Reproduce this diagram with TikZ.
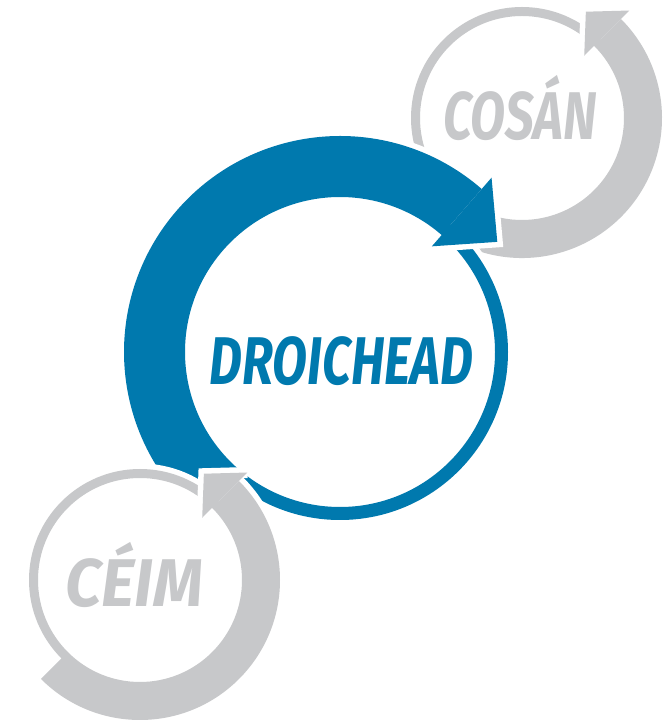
\documentclass[tikz,border=0pt]{standalone}
\usepackage{fontspec}
\usepackage{graphicx}
\newfontfamily\dinfont{Fira Sans}
\definecolor{dblue}{HTML}{0079AE}
\definecolor{lgrey}{HTML}{C7C8CA}
\tikzset{
  ring/.style={fill=#1, preaction={draw=white, line width=11pt}},
  tipline/.style={draw=white, line width=11pt},
  word/.style={inner sep=0pt, anchor=base,
    font=\dinfont\bfseries\itshape\fontsize{67.5}{67.5}\selectfont}
}

\begin{document}
\begin{tikzpicture}[x=1pt,y=1pt]
\useasboundingbox (0,0) rectangle (669,726);

% cosan, top right
\begin{scope}[shift={(522,608)}]
  \fill[ring=lgrey] (0:111) arc[start angle=0,end angle=360,radius=111]
    (0:102) arc[start angle=360,end angle=0,radius=102]
    (-110:140) arc[start angle=-110,end angle=45,radius=140] -- (45:102)
    arc[start angle=45,end angle=-110,radius=102] -- cycle;
  \coordinate (cb1) at (45:152);
  \coordinate (ct)  at (59:124);
  \coordinate (cb2) at (45:88);
  \draw[tipline] (cb1) -- (ct) -- (cb2);
  \fill[lgrey] (cb1) -- (ct) -- (cb2) -- cycle;
  \node[word, text=lgrey] (cosan) at (-2,-22) {\resizebox{154pt}{\height}{COSÁN}};
\end{scope}

% droichead, middle
\begin{scope}[shift={(340,374)}]
  \fill[ring=dblue] (0:168) arc[start angle=0,end angle=360,radius=168]
    (0:155) arc[start angle=360,end angle=0,radius=155]
    (49:216) arc[start angle=49,end angle=218,radius=216] -- (232:168) -- (232:155)
    arc[start angle=232,end angle=49,radius=155] -- cycle;
  \coordinate (db1) at (49:231);
  \coordinate (dt)  at (35:192);
  \coordinate (db2) at (49:140);
  \draw[tipline] (db1) -- (dt) -- (db2);
  \fill[dblue] (db1) -- (dt) -- (db2) -- cycle;
  \node[word, text=dblue] (droichead) at (1.5,-33) {\resizebox{263pt}{\height}{DROICHEAD}};
\end{scope}

% ceim, bottom left
\begin{scope}[shift={(140,146)}]
  \fill[ring=lgrey] (0:111) arc[start angle=0,end angle=360,radius=111]
    (0:102) arc[start angle=360,end angle=0,radius=102]
    (-135:140) arc[start angle=-135,end angle=45,radius=140] -- (45:102)
    arc[start angle=45,end angle=-135,radius=102] -- cycle;
  \coordinate (eb1) at (45:152);
  \coordinate (et)  at (59:124);
  \coordinate (eb2) at (45:88);
  \draw[tipline] (eb1) -- (et) -- (eb2);
  \fill[lgrey] (eb1) -- (et) -- (eb2) -- cycle;
  \node[word, text=lgrey] (ceim) at (-6,-27) {\resizebox{138pt}{\height}{CÉIM}};
\end{scope}
\end{tikzpicture}
\end{document}
